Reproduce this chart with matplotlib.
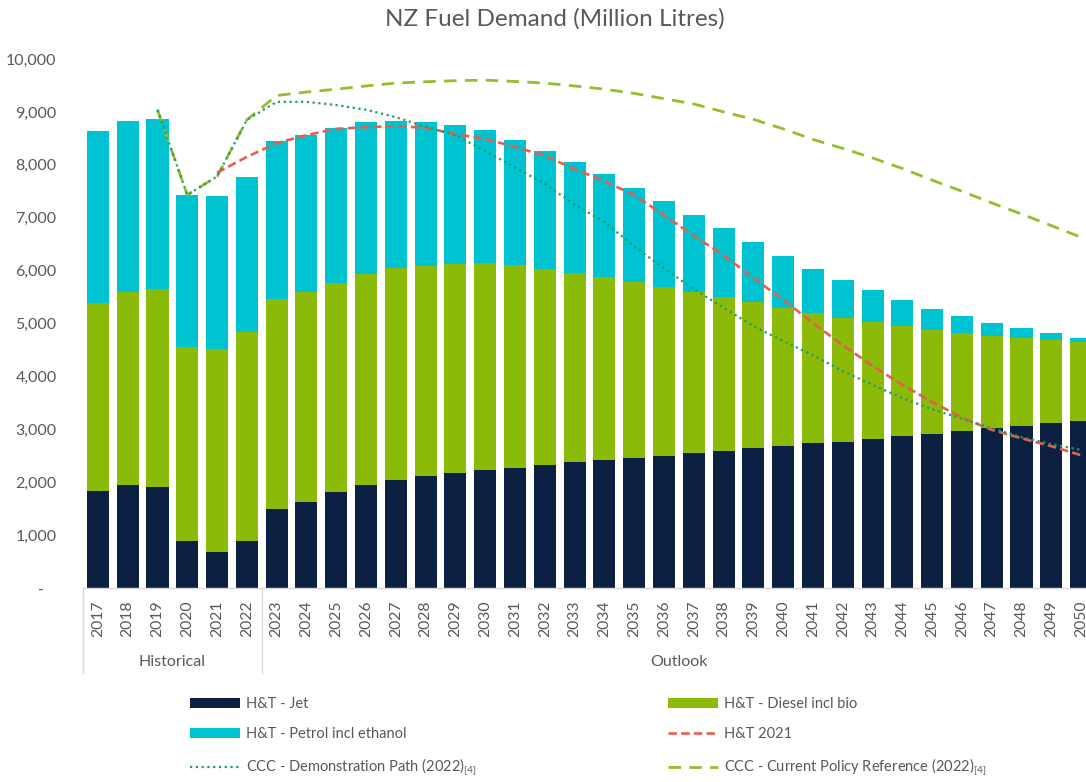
import numpy as np
import matplotlib
matplotlib.use("Agg")
import matplotlib.pyplot as plt
from matplotlib.patches import Patch
from matplotlib.lines import Line2D
import matplotlib.transforms as mtransforms

plt.rcParams['font.family'] = ['Lato', 'DejaVu Sans']
plt.rcParams['mathtext.fontset'] = 'custom'
plt.rcParams['mathtext.rm'] = 'Lato'
plt.rcParams['mathtext.default'] = 'regular'

# ---------------- data ----------------
years = list(range(2017, 2051))
jet = [1835, 1947, 1910, 883, 675, 883, 1488, 1632, 1810, 1950, 2040, 2115, 2175,
       2230, 2270, 2325, 2380, 2420, 2460, 2495, 2545, 2590, 2640, 2690, 2735, 2765,
       2820, 2875, 2910, 2970, 3020, 3060, 3115, 3150]
diesel = [3560, 3650, 3735, 3680, 3835, 3960, 3970, 3960, 3960, 3985, 4000, 3975, 3950,
          3910, 3835, 3705, 3580, 3465, 3330, 3200, 3055, 2905, 2765, 2610, 2470, 2345,
          2215, 2075, 1960, 1845, 1750, 1665, 1565, 1495]
petrol = [3250, 3230, 3215, 2870, 2900, 2935, 3000, 2975, 2930, 2880, 2790, 2725, 2625,
          2520, 2365, 2240, 2090, 1945, 1780, 1625, 1460, 1305, 1145, 980, 825, 705,
          590, 495, 410, 320, 230, 190, 140, 80]

ht2021_years = list(range(2021, 2051))
ht2021 = [7850, 8150, 8410, 8560, 8680, 8710, 8730, 8700, 8580, 8490, 8340, 8170, 7920,
          7690, 7430, 7050, 6660, 6290, 5860, 5450, 5010, 4590, 4200, 3840, 3520, 3220,
          2990, 2830, 2680, 2510]

ccc_years = list(range(2019, 2051))
ccc_demo = [9040, 7430, 7780, 8850, 9190, 9190, 9130, 9040, 8900, 8720, 8560, 8260, 7950,
            7640, 7250, 6920, 6460, 6040, 5650, 5300, 4950, 4670, 4400, 4100, 3840, 3590,
            3380, 3200, 3020, 2850, 2720, 2610]
ccc_ref = [9040, 7430, 7780, 8850, 9310, 9375, 9430, 9490, 9545, 9570, 9590, 9600, 9575,
           9545, 9490, 9430, 9350, 9250, 9150, 9000, 8860, 8680, 8480, 8310, 8130, 7930,
           7710, 7500, 7280, 7070, 6850, 6630]

groups = ["Historical", "Outlook"]
group_sizes = [6, 28]

labels = ["H&T - Jet", "H&T - Diesel incl bio", "H&T - Petrol incl ethanol", "H&T 2021",
          "CCC - Demonstration Path (2022)$_{[4]}$",
          "CCC - Current Policy Reference (2022)$_{[4]}$"]
title = "NZ Fuel Demand (Million Litres)"

# ---------------- styles ----------------
C_JET = '#0C2142'
C_DIESEL = '#8BBA08'
C_PETROL = '#00C3D1'
C_RED = '#E4604E'
C_REF = '#93BF2A'
C_DEMO = '#1E9E6A'
C_TXT = '#595959'
C_AX = '#D9D9D9'

W, H = 1086, 782
fig = plt.figure(figsize=(W / 100, H / 100), dpi=100)
ax_left, ax_right, ax_top, ax_bot = 83, 1096, 59, 588
ax = fig.add_axes([ax_left / W, 1 - ax_bot / H, (ax_right - ax_left) / W, (ax_bot - ax_top) / H])

x = np.arange(len(years))
pos = {y: i for i, y in enumerate(years)}
bw = 0.74
jet_a = np.array(jet)
die_a = np.array(diesel)
pet_a = np.array(petrol)
ax.bar(x, jet_a, width=bw, color=C_JET, zorder=2)
ax.bar(x, die_a, width=bw, bottom=jet_a, color=C_DIESEL, zorder=2)
ax.bar(x, pet_a, width=bw, bottom=jet_a + die_a, color=C_PETROL, zorder=2)

xr = [pos[y] for y in ccc_years]
ax.plot(xr, ccc_ref, color=C_REF, lw=2.0, linestyle=(0, (4.5, 3.0)), zorder=3)
ax.plot(xr, ccc_demo, color=C_DEMO, lw=1.6, linestyle=(0, (1.0, 1.6)), zorder=4)
ax.plot([pos[y] for y in ht2021_years], ht2021, color=C_RED, lw=1.9,
        linestyle=(0, (3.2, 1.6)), zorder=3)

ax.set_xlim(-0.5, len(years) - 0.5)
ax.set_ylim(0, 10000)
ax.set_yticks(np.arange(0, 10001, 1000))
ax.set_yticklabels(["-   " if v == 0 else f"{v:,}" for v in range(0, 10001, 1000)],
                   color=C_TXT, fontsize=11.5)
ax.set_xticks(x)
ax.set_xticklabels([str(y) for y in years], rotation=90, color=C_TXT, fontsize=11.3)
ax.tick_params(axis='both', length=0)
ax.tick_params(axis='y', pad=19)
ax.tick_params(axis='x', pad=9)
for s in ['top', 'right', 'left']:
    ax.spines[s].set_visible(False)
ax.spines['bottom'].set_color(C_AX)
ax.spines['bottom'].set_linewidth(1.0)

# group separators and labels
trans = mtransforms.blended_transform_factory(ax.transData, ax.transAxes)
sep_bottom = -(673 - 588) / (ax_bot - ax_top)
lab_y = -(662 - 588) / (ax_bot - ax_top)
start = -0.5
for g, n in zip(groups, group_sizes):
    ax.plot([start, start], [0, sep_bottom], transform=trans, color=C_AX, lw=1.0, clip_on=False)
    ax.text(start + n / 2, lab_y, g, transform=trans, ha='center', va='center',
            color=C_TXT, fontsize=11.5)
    start += n

fig.text(555 / W, 1 - 19 / H, title, ha='center', va='center', color=C_TXT, fontsize=17.5)

# legend
h_jet = Patch(facecolor=C_JET)
h_die = Patch(facecolor=C_DIESEL)
h_pet = Patch(facecolor=C_PETROL)
h_red = Line2D([], [], color=C_RED, lw=1.9, linestyle=(0, (3.2, 1.6)))
h_demo = Line2D([], [], color=C_DEMO, lw=1.6, linestyle=(0, (1.0, 1.6)))
h_ref = Line2D([], [], color=C_REF, lw=2.0, linestyle=(0, (4.5, 3.0)))

common = dict(frameon=False, fontsize=10.5, handlelength=3.45, handleheight=0.75,
              handletextpad=0.4, labelspacing=1.1, borderpad=0, borderaxespad=0,
              loc='upper left', labelcolor=C_TXT)
leg1 = fig.legend([h_jet, h_pet, h_demo], [labels[0], labels[2], labels[4]],
                  bbox_to_anchor=(190 / W, 1 - 697 / H), **common)
leg2 = fig.legend([h_die, h_red, h_ref], [labels[1], labels[3], labels[5]],
                  bbox_to_anchor=(668 / W, 1 - 697 / H), **common)

fig.savefig("out.png", dpi=100)
